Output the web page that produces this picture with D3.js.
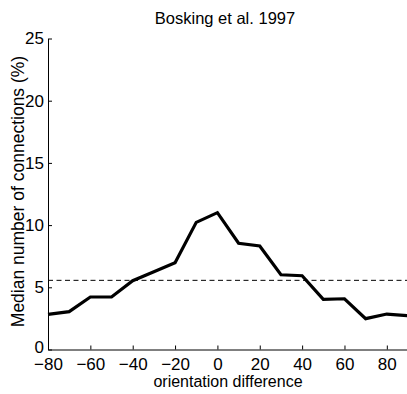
<!DOCTYPE html>
<html>
<head>
<meta charset="utf-8">
<script src="https://cdn.jsdelivr.net/npm/d3@7"></script>
<style>
html,body{margin:0;padding:0;background:#fff;}
svg{display:block;font-family:"Liberation Sans",Arial,Helvetica,sans-serif;}
</style>
</head>
<body>
<svg id="chart" width="407" height="394"></svg>
<script>
const orientation = [-80,-70,-60,-50,-40,-30,-20,-10,0,10,20,30,40,50,60,70,80,90];
const medianPct = [2.83,3.04,4.22,4.22,5.53,6.25,6.98,10.22,11.0,8.54,8.32,6.01,5.93,4.03,4.08,2.48,2.85,2.72];
const baseline = [5.56];
const xTicks = [-80,-60,-40,-20,0,20,40,60,80];
const yTicks = [0,5,10,15,20,25];
const title = "Bosking et al. 1997";
const xLabel = "orientation difference";
const yLabel = "Median number of connections (%)";

const svg = d3.select("#chart");
const x = d3.scaleLinear().domain([-80,90]).range([48,408]);
const y = d3.scaleLinear().domain([0,25]).range([349.5,38.5]);
const tickFs = 17;

const fmt = d => d < 0 ? "\u2212" + Math.abs(d) : String(d);

const xAxis = svg.append("g").attr("transform","translate(0,349.5)")
  .call(d3.axisBottom(x).tickValues(xTicks).tickSizeInner(-4).tickSizeOuter(0).tickPadding(8).tickFormat(fmt));
const yAxis = svg.append("g").attr("transform","translate(48,0)")
  .call(d3.axisLeft(y).tickValues(yTicks).tickSizeInner(-4).tickSizeOuter(0).tickPadding(4).tickFormat(fmt));
[xAxis,yAxis].forEach(a=>{
  a.selectAll("text").attr("font-size",tickFs).attr("fill","#000").attr("font-family","Liberation Sans, Arial, sans-serif");
  a.selectAll("line,path").attr("stroke","#000");
});
yAxis.selectAll(".tick").filter(d => d === 0).select("text").attr("dy","0.2em");

svg.append("line")
  .attr("x1",x(-80)).attr("x2",x(90))
  .attr("y1",y(baseline[0])).attr("y2",y(baseline[0]))
  .attr("stroke","#000").attr("stroke-width",1).attr("stroke-dasharray","5,3.5");

const line = d3.line().x((d,i)=>x(orientation[i])).y(d=>y(d));
svg.append("path").datum(medianPct)
  .attr("d",line).attr("fill","none").attr("stroke","#000")
  .attr("stroke-width",3.2).attr("stroke-linejoin","miter");

svg.append("text").attr("x",225).attr("y",24).attr("text-anchor","middle")
  .attr("font-size",16.5).text(title);
svg.append("text").attr("x",228).attr("y",386.5).attr("text-anchor","middle")
  .attr("font-size",16).text(xLabel);
svg.append("text").attr("transform","translate(24,191.5) rotate(-90)")
  .attr("text-anchor","middle").attr("font-size",17.5).text(yLabel);
</script>
</body>
</html>
